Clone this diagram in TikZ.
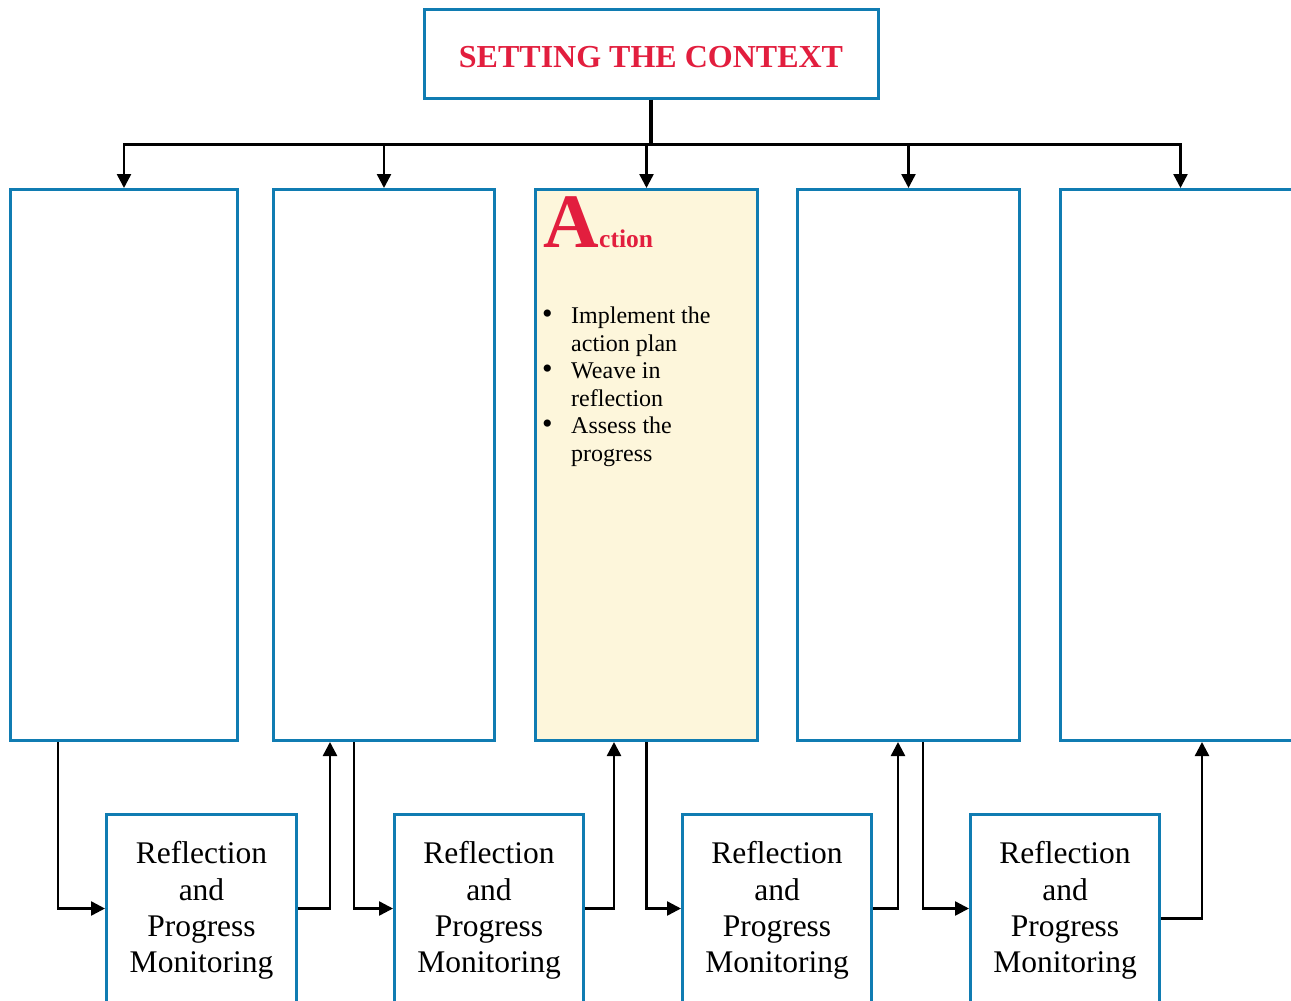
\documentclass[tikz,border=0pt]{standalone}
\usepackage{fontspec}
\setmainfont{Liberation Serif}
\usetikzlibrary{arrows.meta}
\definecolor{boxblue}{RGB}{16,124,178}
\definecolor{titlered}{RGB}{226,30,62}
\definecolor{cream}{RGB}{253,246,219}
\begin{document}
\begin{tikzpicture}[x=1pt,y=-1pt,
  box/.style={draw=boxblue, line width=3pt, inner sep=0pt},
  tall/.style={box, anchor=north west, minimum height=551pt},
  refl/.style={box, anchor=north west, minimum height=192pt, align=center,
    font=\fontsize{31.5}{36.3}\selectfont},
  arr/.style={line width=2.5pt, -{Triangle[length=14pt,width=14pt]}},
  bul/.style={anchor=base west, inner sep=0pt, font=\fontsize{24}{27.6}\selectfont},
  dot/.style={anchor=base west, inner sep=0pt, font=\fontsize{30}{30}\selectfont}]
\useasboundingbox (0,0) rectangle (1291,1001);
\clip (0,0) rectangle (1291,1001);

% title
\node[box, minimum width=454pt, minimum height=89pt, text=titlered,
  font=\fontsize{32}{32}\selectfont\bfseries, text height=27pt, text depth=0pt]
  (top) at (651,53.5) {SETTING THE CONTEXT};

% tall boxes
\node[tall, minimum width=227pt] (t1) at (9,188) {};
\node[tall, minimum width=221pt] (t2) at (272,188) {};
\node[tall, minimum width=222pt, fill=cream] (t3) at (534,188) {};
\node[tall, minimum width=222pt] (t4) at (796,188) {};
\node[tall, minimum width=240pt] (t5) at (1059,188) {};

% reflection boxes
\node[refl, minimum width=190pt] (r1) at (105,813) {Reflection\\and\\Progress\\Monitoring};
\node[refl, minimum width=189pt] (r2) at (393,813) {Reflection\\and\\Progress\\Monitoring};
\node[refl, minimum width=189pt] (r3) at (681,813) {Reflection\\and\\Progress\\Monitoring};
\node[refl, minimum width=189pt] (r4) at (969,813) {Reflection\\and\\Progress\\Monitoring};

% distribution from title
\draw[line width=4pt] (top.south) -- ++(0,45) coordinate (hub);
\draw[line width=3pt, line cap=rect] (t1.north |- hub) -- (t5.north |- hub);
\foreach \t in {t1,t2,t3,t4,t5}
  \draw[arr] (\t.north |- hub) -- (\t.north);

% loop connectors
\draw[arr] ([xshift=49pt]t1.south west) |- ([yshift=2pt]r1.west);
\draw[arr] ([yshift=2pt]r1.east) -| ([xshift=58pt]t2.south west);
\draw[arr] ([xshift=82pt]t2.south west) |- ([yshift=2pt]r2.west);
\draw[arr] ([yshift=2pt]r2.east) -| ([xshift=80pt]t3.south west);
\draw[arr] (t3.south) |- ([yshift=2pt]r3.west);
\draw[arr] ([yshift=2pt]r3.east) -| ([xshift=102pt]t4.south west);
\draw[arr] ([xshift=127pt]t4.south west) |- ([yshift=2pt]r4.west);
\draw[arr] ([yshift=-8pt]r4.east) -| ([xshift=143pt]t5.south west);

% Action content
\node[anchor=base west, inner sep=0pt, text=titlered,
  font=\fontsize{77}{77}\selectfont\bfseries] (actA) at (543,247) {A};
\node[anchor=base west, inner sep=0pt, text=titlered,
  font=\fontsize{25.5}{25.5}\selectfont\bfseries] (actB) at (actA.base east) {ction};

\node[dot] (d1) at (542,323) {\textbullet};
\node[bul] (l1) at (571,323) {Implement the};
\node[bul] (l2) at (571,351) {action plan};
\node[dot] (d2) at (542,378) {\textbullet};
\node[bul] (l3) at (571,378) {Weave in};
\node[bul] (l4) at (571,406) {reflection};
\node[dot] (d3) at (542,433) {\textbullet};
\node[bul] (l5) at (571,433) {Assess the};
\node[bul] (l6) at (571,461) {progress};
\end{tikzpicture}
\end{document}
